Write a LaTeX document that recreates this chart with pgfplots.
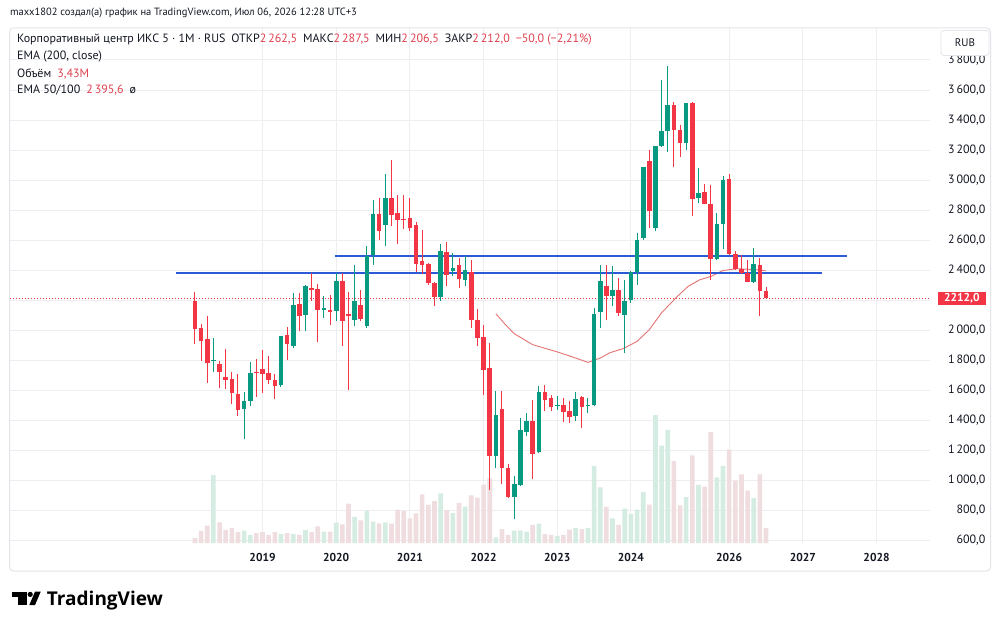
\documentclass[border=0pt]{standalone}
\usepackage{fontspec}
\setmainfont{PT Sans}
\newfontfamily\brandfont{Open Sans}
\usepackage{pgfplots}
\usepackage{pgfplotstable}
\pgfplotsset{compat=1.18}

\definecolor{upcol}{HTML}{089981}
\definecolor{dncol}{HTML}{F23645}
\definecolor{volup}{HTML}{D5ECE2}
\definecolor{voldn}{HTML}{F0DDDF}
\definecolor{emacol}{HTML}{E57373}
\definecolor{levcol}{HTML}{2C5AD6}
\definecolor{gridcol}{HTML}{EDEEF1}
\definecolor{framecol}{HTML}{E3E5EA}
\definecolor{txt}{HTML}{131722}
\definecolor{valred}{HTML}{E0404F}

% Monthly bars, bar index i (0 = Feb 2018); o h l c in RUB, v = volume, millions
\pgfplotstableread{
i o h l c v
3 1792 1948 1719 1804 16.67
8 1476 1587 1279 1527 2.86
9 1527 1786 1493 1713 1.80
14 1633 1959 1622 1959 1.96
16 1893 2248 1880 2170 1.96
18 2103 2303 1993 2292 2.94
21 2137 2225 2082 2142 2.61
23 2130 2381 2059 2330 4.82
26 2070 2436 2026 2197 6.29
28 2026 2558 2015 2496 7.84
29 2503 2869 2436 2773 5.07
31 2700 3042 2558 2880 4.90
40 2219 2574 2197 2529 12.09
42 2392 2514 2363 2414 7.19
44 2336 2492 2292 2403 8.82
49 1166 1593 1084 1434 1.14
52 891 1028 740 973 2.86
53 968 1416 961 1338 2.86
54 1320 1449 1294 1394 2.61
56 1187 1627 1180 1587 4.58
59 1495 1560 1471 1500 1.55
62 1427 1587 1394 1543 3.43
64 1494 1549 1450 1505 3.43
65 1500 2148 1495 2110 18.95
66 2121 2436 2015 2325 13.64
68 2225 2430 2159 2270 5.88
70 2104 2336 1849 2192 8.33
71 2203 2392 2181 2385 7.03
72 2385 2647 2303 2603 8.09
73 2614 3086 2603 3086 12.42
75 2680 3228 2664 3228 31.62
76 3228 3667 3220 3330 24.02
77 3330 3760 3190 3501 27.94
80 3250 3516 3201 3516 11.19
82 2880 3079 2847 2917 14.22
85 2476 2780 2470 2707 16.09
86 2707 3024 2541 3002 18.95
91 2321 2547 2318 2443 10.95
}\upbars

\pgfplotstableread{
i o h l c v
0 2197 2252 1911 2008 0.98
1 2017 2042 1798 1926 2.78
2 1942 2092 1649 1782 4.08
4 1778 1793 1613 1720 4.90
5 1686 1875 1609 1671 3.02
6 1678 1722 1509 1580 3.43
7 1576 1709 1427 1472 2.45
10 1724 1809 1553 1713 2.21
11 1740 1871 1583 1709 2.45
12 1713 1826 1642 1666 1.80
13 1671 1709 1543 1631 2.45
15 1966 2019 1799 1911 2.21
17 2177 2248 1993 2092 1.80
19 2281 2381 2192 2270 2.45
20 2275 2310 1919 2137 3.92
22 2137 2237 2037 2124 2.61
24 2325 2381 1893 2059 4.41
25 2108 2255 1605 2092 9.56
27 2170 2270 2060 2077 5.39
30 2773 2880 2598 2664 4.66
32 2880 3135 2696 2769 4.58
33 2780 2902 2576 2736 8.09
34 2742 2902 2676 2736 7.68
35 2747 2880 2660 2680 5.88
36 2702 2724 2385 2443 7.11
37 2458 2669 2374 2436 11.85
38 2441 2450 2300 2314 9.31
39 2314 2320 2159 2219 10.21
41 2521 2591 2292 2365 7.92
43 2436 2481 2281 2341 9.72
45 2385 2470 2015 2066 11.60
46 2070 2142 1893 1949 11.03
47 1955 2037 1571 1738 14.30
48 1749 1915 939 1166 15.85
50 1478 1593 973 1084 3.19
51 1084 1112 880 891 1.80
55 1394 1538 1010 1179 4.25
57 1587 1638 1460 1538 1.96
58 1549 1571 1460 1487 1.80
60 1505 1549 1387 1454 1.80
61 1460 1527 1383 1420 3.10
63 1556 1560 1350 1490 3.19
67 2297 2436 2070 2225 8.74
69 2270 2348 2092 2115 4.25
74 3130 3201 2680 2791 9.31
78 3501 3523 3090 3334 20.18
79 3334 3368 3153 3250 9.15
81 3516 3523 2758 2873 21.57
83 2920 2973 2842 2842 13.81
84 2840 2968 2336 2476 27.37
87 3008 3042 2500 2509 23.04
88 2509 2525 2403 2408 15.28
89 2408 2503 2376 2381 16.83
90 2381 2470 2321 2321 12.83
92 2436 2481 2097 2262 16.83
93 2262.5 2287.5 2206.5 2212 3.43
}\downbars

% EMA 50/100
\pgfplotstableread{
i e
49 2110
50.5 2040
52 1977
55 1904
59.4 1851
62 1815
64 1786
66 1815
67.6 1851
69.7 1877
72 1926
74 2004
76 2117
78.5 2223
80.3 2292
82.2 2336
84 2358
86 2398
88.3 2410
91.5 2403
93 2395.6
}\emadata

% volume panel: price units per million
\def\volk{26.72}
\def\volbase{590}

\pgfplotsset{
  wick/.style={draw=none, mark=none, forget plot,
    error bars/.cd, y dir=plus, y explicit, error mark=none,
    error bar style={draw=#1, line width=1pt}},
  body/.style={draw=none, mark=none, forget plot,
    error bars/.cd, y dir=plus, y explicit, error mark=none,
    error bar style={draw=#1, line width=4.6pt}},
}

\begin{document}
\begin{tikzpicture}[x=1pt,y=1pt]
\path[use as bounding box, fill=white] (0,0) rectangle (1000,629);
% chart frame
\draw[framecol, line width=1pt, rounded corners=4pt] (9.5,58) rectangle (990.5,601);

\begin{axis}[
  at={(10pt,86pt)}, anchor=south west,
  width=920pt, height=515pt, scale only axis,
  xmin=-30.13, xmax=119.71,
  ymin=583.4, ymax=4012.8,
  clip mode=individual,
  axis line style={draw=none},
  major tick length=0pt,
  xtick={11,23,35,47,59,71,87,99,111},
  xticklabels={2019,2020,2021,2022,2023,2024,2026,2027,2028},
  % the 2 200 level sits under the last-price tag: grid line only
  ytick={600,800,1000,1200,1400,1600,1800,2000,2400,2600,2800,3000,3200,3400,3600,3800},
  extra y ticks={2200},
  extra y tick labels={},
  extra y tick style={grid=major},
  grid=major,
  major grid style={gridcol, line width=0.9pt},
  yticklabel pos=right,
  y tick label style={anchor=east, xshift=59pt, text=txt,
    font=\fontsize{12}{13}\selectfont},
  x tick label style={text=txt, yshift=-7pt,
    font=\bfseries\fontsize{11.5}{12}\selectfont},
  /pgf/number format/fixed,
  /pgf/number format/fixed zerofill,
  /pgf/number format/precision=1,
  /pgf/number format/use comma,
  /pgf/number format/1000 sep={\,},
  /pgf/number format/assume math mode=true,
]

% volume
\addplot[ybar, bar width=4.6pt, bar shift=0pt, fill=volup, draw=none, forget plot]
  table[x=i, y expr=\volbase+\thisrow{v}*\volk] {\upbars};
\addplot[ybar, bar width=4.6pt, bar shift=0pt, fill=voldn, draw=none, forget plot]
  table[x=i, y expr=\volbase+\thisrow{v}*\volk] {\downbars};

% EMA
\addplot[emacol, line width=0.9pt, mark=none] table[x=i, y=e] {\emadata};

% level lines
\addplot[levcol, line width=2pt, mark=none] coordinates {(22.8,2497) (106.2,2497)};
\addplot[levcol, line width=2pt, mark=none] coordinates {(-3.1,2383) (102.1,2383)};

% last price line
\addplot[dncol, line width=0.9pt, dash pattern=on 1pt off 2pt, mark=none]
  coordinates {(-30.13,2212) (119.71,2212)};

% candles
\addplot[wick=upcol] table[x=i, y=l, y error plus expr=\thisrow{h}-\thisrow{l}] {\upbars};
\addplot[wick=dncol] table[x=i, y=l, y error plus expr=\thisrow{h}-\thisrow{l}] {\downbars};
\addplot[body=upcol] table[x=i, y expr={min(\thisrow{o},\thisrow{c})},
  y error plus expr={max(abs(\thisrow{c}-\thisrow{o}),8)}] {\upbars};
\addplot[body=dncol] table[x=i, y expr={min(\thisrow{o},\thisrow{c})},
  y error plus expr={max(abs(\thisrow{c}-\thisrow{o}),8)}] {\downbars};

% last price tag
\node[fill=dncol, text=white, inner sep=0pt, minimum width=48pt, minimum height=12.5pt,
  font=\bfseries\fontsize{11.5}{12}\selectfont] at (axis cs:124.9,2212) {2212,0};
\end{axis}

% currency box
\node[draw=framecol, fill=white, rounded corners=3pt, line width=0.8pt,
  minimum width=48pt, minimum height=25pt, text=txt,
  font=\fontsize{11}{12}\selectfont] at (965,586) {RUB};

% header
\node[anchor=west, text=txt, inner sep=0pt, font=\fontsize{10.5}{12}\selectfont]
  at (10,616) {maxx1802 создал(а) график на TradingView.com, Июл 06, 2026 12:28 UTC+3};
\node[anchor=west, text=txt, inner sep=0pt, font=\fontsize{12}{13}\selectfont]
  at (17,589) {Корпоративный центр ИКС 5 · 1M · RUS\enspace ОТКР{\color{valred}2\,262,5}\enspace
  МАКС{\color{valred}2\,287,5}\enspace МИН{\color{valred}2\,206,5}\enspace
  ЗАКР{\color{valred}2\,212,0\enspace −50,0 (−2,21\%)}};
\node[anchor=west, text=txt, inner sep=0pt, font=\fontsize{12}{13}\selectfont]
  at (17,572) {EMA (200, close)};
\node[anchor=west, text=txt, inner sep=0pt, font=\fontsize{12}{13}\selectfont]
  at (17,555) {Объём\enspace{\color{valred}3,43M}};
\node[anchor=west, text=txt, inner sep=0pt, font=\fontsize{12}{13}\selectfont]
  at (17,539) {EMA 50/100\enspace{\color{valred}2\,395,6}\enspace ø};

% brand mark and wordmark
\fill[black] (11.7,37.3) rectangle (26.7,32);
\fill[black] (18.3,37.3) rectangle (26.7,24);
\fill[black] (30.2,34.6) circle (2.6);
\fill[black] (29.3,24) -- (35,24) -- (40.7,37.3) -- (35,37.3) -- cycle;
\node[anchor=base west, inner sep=0pt, font=\brandfont\bfseries\fontsize{19}{20}\selectfont]
  at (46.7,24) {TradingView};
\end{tikzpicture}
\end{document}
